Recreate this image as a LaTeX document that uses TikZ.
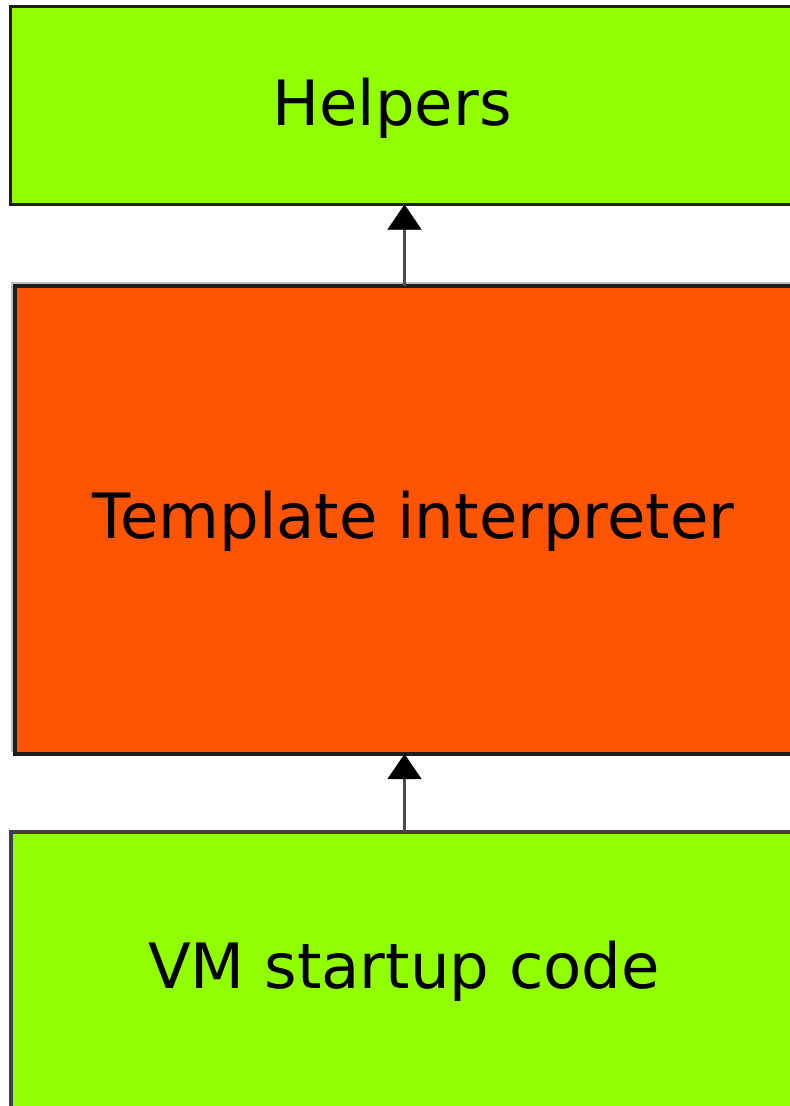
\documentclass[tikz,border=0pt]{standalone}
\usepackage{fontspec}
\setmainfont{DejaVu Sans}
\usetikzlibrary{arrows.meta}
\definecolor{limegreen}{RGB}{145,255,0}
\definecolor{hotorange}{RGB}{255,85,0}
\definecolor{edgegray}{RGB}{30,30,30}
\begin{document}
\begin{tikzpicture}[x=1pt,y=-1pt,
  block/.style={draw=edgegray,line width=3.5pt,inner sep=0pt,outer sep=0pt,anchor=north west},
  caption/.style={font=\fontsize{62.5}{70}\selectfont,anchor=base,inner sep=0pt,text=black},
  link/.style={draw=black!70,line width=3pt,-{Triangle[width=34pt,length=25pt,color=black,fill=black,line width=0.5pt]}}]
\useasboundingbox (0,0) rectangle (790,1106);
\fill[white] (0,0) rectangle (790,1106);
% layer blocks, running off the right and bottom edges
\node[block,fill=limegreen,minimum width=800pt,minimum height=198pt] (helpers) at (10.5,6.5) {};
\fill[black!25] (11,282) rectangle (810,752);
\node[block,fill=hotorange,minimum width=800pt,minimum height=468pt] (tmpl) at (15,286) {};
\node[block,draw=black!75,fill=limegreen,minimum width=800pt,minimum height=300pt] (vm) at (11,832) {};
% captions
\node[caption] (helperstext) at (392,125) {Helpers};
\node[caption] (tmpltext) at (413.5,538) {Template interpreter};
\node[caption] (vmtext) at (404,988) {VM startup code};
% calls upward between layers
\coordinate (axis) at (404.5,0);
\draw[link] (tmpl.north -| axis) -- (helpers.south -| axis);
\draw[link] (vm.north -| axis) -- (tmpl.south -| axis);
\end{tikzpicture}
\end{document}
